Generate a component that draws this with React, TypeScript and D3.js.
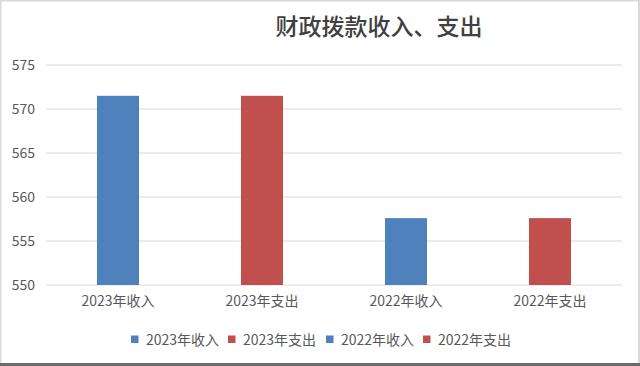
import React from "react";
import * as d3 from "d3";

const categories = ["2023年收入", "2023年支出", "2022年收入", "2022年支出"];
const values = [571.5, 571.5, 557.6, 557.6];
const barColors = ["#4f81bd", "#c0504d", "#4f81bd", "#c0504d"];
const yTicks = [550, 555, 560, 565, 570, 575];
const title = "财政拨款收入、支出";

const W = 640;
const H = 366;
const FONT = "'Noto Sans CJK SC', 'Noto Sans', sans-serif";

export default function App() {
  const x = d3.scaleBand<string>().domain(categories).range([46, 622]).paddingInner(0.708).paddingOuter(0.354);
  const y = d3.scaleLinear().domain([550, 575]).range([285, 65]);

  const legendX = [131, 228, 326, 423];

  return (
    <div style={{ position: "absolute", left: 0, top: 0 }}>
      <svg width={W} height={H} style={{ display: "block", background: "#fff" }}>
        <rect x={0.5} y={0.5} width={W - 1.5} height={H - 2} fill="#fff" stroke="#d9d9d9" strokeWidth={2} />
        <line x1={0} x2={W} y1={H - 1.5} y2={H - 1.5} stroke="#6b6b6b" strokeWidth={3} />
        <text x={379} y={35} textAnchor="middle" fontFamily={FONT} fontSize={23} fill="#404040" fontWeight={500}>
          {title}
        </text>
        {yTicks.map((t) => (
          <g key={t}>
            <line x1={46} x2={622} y1={y(t)} y2={y(t)} stroke="#d9d9d9" strokeWidth={1} />
            <text x={35} y={y(t) + 5} textAnchor="end" fontFamily={FONT} fontSize={14} fill="#595959">
              {t}
            </text>
          </g>
        ))}
        {categories.map((c, i) => (
          <g key={c}>
            <rect x={x(c)} y={y(values[i])} width={x.bandwidth()} height={y(550) - y(values[i])} fill={barColors[i]} />
            <text x={(x(c) as number) + x.bandwidth() / 2} y={306} textAnchor="middle" fontFamily={FONT} fontSize={14} fill="#595959">
              {c}
            </text>
          </g>
        ))}
        {categories.map((c, i) => (
          <g key={"lg" + c}>
            <rect x={legendX[i]} y={335.5} width={7.5} height={7.5} fill={barColors[i]} />
            <text x={legendX[i] + 15} y={344.5} fontFamily={FONT} fontSize={14} fill="#595959">
              {c}
            </text>
          </g>
        ))}
      </svg>
    </div>
  );
}
